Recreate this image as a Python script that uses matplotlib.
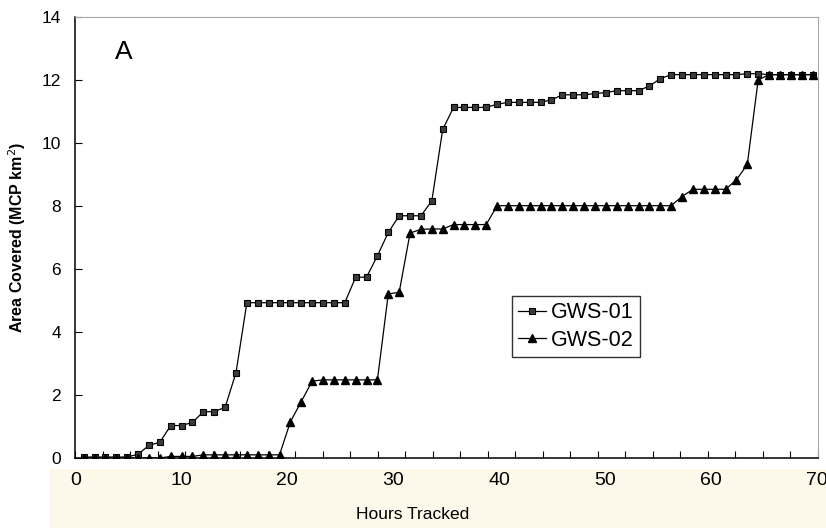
import matplotlib
matplotlib.use("Agg")
import matplotlib.pyplot as plt
import numpy as np
from matplotlib.patches import Rectangle

# fix number (roughly hourly GPS fixes)
fix = np.arange(1, 69)

gws01 = [0.03, 0.03, 0.03, 0.03, 0.03, 0.12, 0.40, 0.50, 1.03, 1.03,
         1.13, 1.47, 1.47, 1.61, 2.71, 4.93, 4.93, 4.93, 4.93, 4.93,
         4.93, 4.93, 4.93, 4.93, 4.93, 5.74, 5.74, 6.42, 7.16, 7.69,
         7.69, 7.69, 8.16, 10.43, 11.13, 11.13, 11.13, 11.13, 11.23, 11.29,
         11.29, 11.29, 11.29, 11.37, 11.53, 11.53, 11.53, 11.57, 11.60, 11.66,
         11.66, 11.66, 11.81, 12.04, 12.17, 12.17, 12.17, 12.17, 12.17, 12.17,
         12.17, 12.20, 12.20, 12.17, 12.17, 12.17, 12.17, 12.17]

gws02 = [0.0, 0.0, 0.0, 0.0, 0.0, 0.0, 0.0, 0.0, 0.05, 0.05,
         0.05, 0.10, 0.10, 0.10, 0.10, 0.10, 0.10, 0.10, 0.10, 1.15,
         1.79, 2.44, 2.48, 2.48, 2.48, 2.48, 2.48, 2.48, 5.21, 5.26,
         7.14, 7.26, 7.27, 7.27, 7.41, 7.41, 7.41, 7.41, 8.01, 8.01,
         8.01, 8.01, 8.01, 8.01, 8.01, 8.01, 8.01, 8.01, 8.01, 8.01,
         8.01, 8.01, 8.01, 8.01, 8.01, 8.30, 8.53, 8.53, 8.53, 8.53,
         8.83, 9.32, 12.00, 12.17, 12.17, 12.17, 12.17, 12.17]

hour_ticks = [0, 10, 20, 30, 40, 50, 60, 70]
y_ticks = [0, 2, 4, 6, 8, 10, 12, 14]

plt.rcParams['font.family'] = ['Liberation Sans', 'DejaVu Sans']

fig = plt.figure(figsize=(8.26, 5.28), dpi=100)
# beige band behind the hour labels
fig.patches.append(Rectangle((50/826, 0), 1, 59/528, transform=fig.transFigure,
                             facecolor='#fdf9ea', edgecolor='none', zorder=-5))

ax = fig.add_axes([75/826, 70/528, 743/826, 441/528])
ax.set_facecolor('none')

ax.plot(fix, gws01, color='black', lw=0.9, marker='s', ms=5,
        mfc='#3c3c3c', mec='black', mew=0.8, label='GWS-01')
ax.plot(fix, gws02, color='black', lw=0.9, marker='^', ms=6,
        mfc='black', mec='black', label='GWS-02')

ax.set_xlim(0.2, 68.5)
ax.set_ylim(0, 14)

ax.set_xticks([])
ax.set_xticks(np.linspace(0.2, 68.5, 28), minor=True)
ax.tick_params(axis='x', which='minor', direction='in', length=5, width=0.8,
               labelbottom=False)
ax.set_yticks(y_ticks)
ax.tick_params(axis='y', direction='in', length=5, width=0.8, pad=10,
               labelsize=12.5)

for s in ['top', 'right']:
    ax.spines[s].set_color('#a8a8a8')
for s in ['left', 'bottom']:
    ax.spines[s].set_linewidth(1.1)

ax.set_ylabel('Area Covered (MCP km$^2$)', fontsize=11.5, fontweight='bold',
              labelpad=10)

# hour labels (fixes are ~1.03 h apart)
def to_hours(i):
    return (np.asarray(i) - 0.228) / 0.9743

def to_fix(h):
    return np.asarray(h) * 0.9743 + 0.228

sec = ax.secondary_xaxis('bottom', functions=(to_hours, to_fix))
sec.spines['bottom'].set_visible(False)
sec.set_xticks(hour_ticks)
sec.tick_params(length=0, pad=10, labelsize=14)
sec.set_xlabel('Hours Tracked', fontsize=12.5, labelpad=13, x=0.455)

ax.text(0.066, 0.92, 'A', transform=ax.transAxes, fontsize=19,
        ha='center', va='center')

leg = ax.legend(loc='upper left', bbox_to_anchor=(512/826, 1 - 296/528),
                bbox_transform=fig.transFigure, fontsize=15.5, frameon=True,
                fancybox=False, handlelength=1.3, handletextpad=0.2,
                borderpad=0.3, labelspacing=0.3, borderaxespad=0)
leg.get_frame().set_edgecolor('black')
leg.get_frame().set_linewidth(1.0)

fig.savefig('out.png', dpi=100)
